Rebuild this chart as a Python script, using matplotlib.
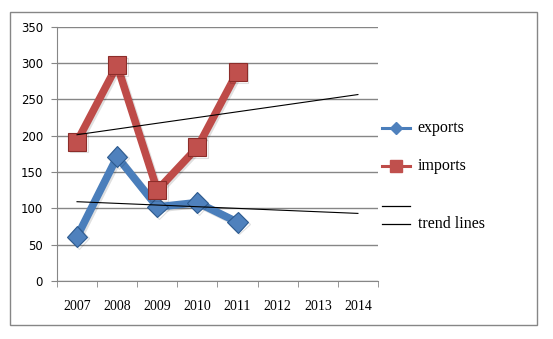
import numpy as np
import matplotlib.pyplot as plt
from matplotlib.lines import Line2D
from matplotlib.patches import Rectangle
import matplotlib.patheffects as pe

years = ["2007", "2008", "2009", "2010", "2011", "2012", "2013", "2014"]
exports = [61, 171, 102, 108, 81]
imports = [192, 297, 125, 184, 288]

x_all = np.arange(len(years))
x_data = np.arange(len(exports))

fig = plt.figure(figsize=(5.53, 3.39), dpi=100)
ax = fig.add_axes([0.103, 0.171, 0.5805, 0.75])

# outer chart border
fig.patches.append(Rectangle((0.018, 0.041), 0.953, 0.924, transform=fig.transFigure,
                             fill=False, edgecolor="#868686", lw=1))

shadow = [pe.SimpleLineShadow(offset=(1.2, -1.2), alpha=0.12), pe.Normal()]

ax.plot(x_data, exports, color="#4A7EBB", lw=5.5, marker="D", ms=10.5,
        markerfacecolor="#4F81BD", markeredgecolor="#2C5A8F", mew=0.8,
        solid_joinstyle="round", path_effects=shadow, zorder=3)
ax.plot(x_data, imports, color="#BE4B48", lw=5.5, marker="s", ms=13,
        markerfacecolor="#C0504D", markeredgecolor="#8C2D2A", mew=0.8,
        solid_joinstyle="round", path_effects=shadow, zorder=3)

# linear trend lines extended to 2014
for series in (exports, imports):
    k, b = np.polyfit(x_data, series, 1)
    ax.plot(x_all, k * x_all + b, color="black", lw=0.8, zorder=4)

ax.set_xlim(-0.5, len(years) - 0.5)
ax.set_ylim(0, 350)
ax.set_yticks(range(0, 351, 50))
ax.yaxis.grid(True, color="#868686", lw=1)
ax.set_axisbelow(True)

ax.set_xticks(x_all)
ax.set_xticklabels(years, family="Liberation Serif", fontsize=10)
ax.set_xticks(np.arange(-0.5, len(years)), minor=True)
ax.tick_params(axis="x", which="major", length=0, pad=14)
ax.tick_params(axis="x", which="minor", length=4, color="#868686")
ax.tick_params(axis="y", length=4, color="#868686", labelsize=8.5, pad=6)

for s in ("top", "right"):
    ax.spines[s].set_visible(False)
for s in ("left", "bottom"):
    ax.spines[s].set_color("#868686")

# legend drawn by hand to keep Excel-like spacing
def legend_line(y, color, marker=None, mfc=None, ms=0, lw=2.2):
    fig.add_artist(Line2D([0.691, 0.741], [y, y], transform=fig.transFigure,
                          color=color, lw=lw))
    if marker:
        fig.add_artist(Line2D([0.716], [y], transform=fig.transFigure,
                              marker=marker, ms=ms, color=mfc, mec=mfc, lw=0))

legend_line(1 - 128 / 339, "#4A7EBB", "D", "#4F81BD", 6)
legend_line(1 - 166 / 339, "#BE4B48", "s", "#C0504D", 8)
legend_line(1 - 206 / 339, "black", lw=0.9)
legend_line(1 - 224 / 339, "black", lw=0.9)
for y, t in [(128, "exports"), (166, "imports"), (224, "trend lines")]:
    fig.text(0.755, 1 - y / 339, t, family="Liberation Serif", fontsize=11.5,
             va="center", ha="left")

fig.savefig("out.png", dpi=100)
